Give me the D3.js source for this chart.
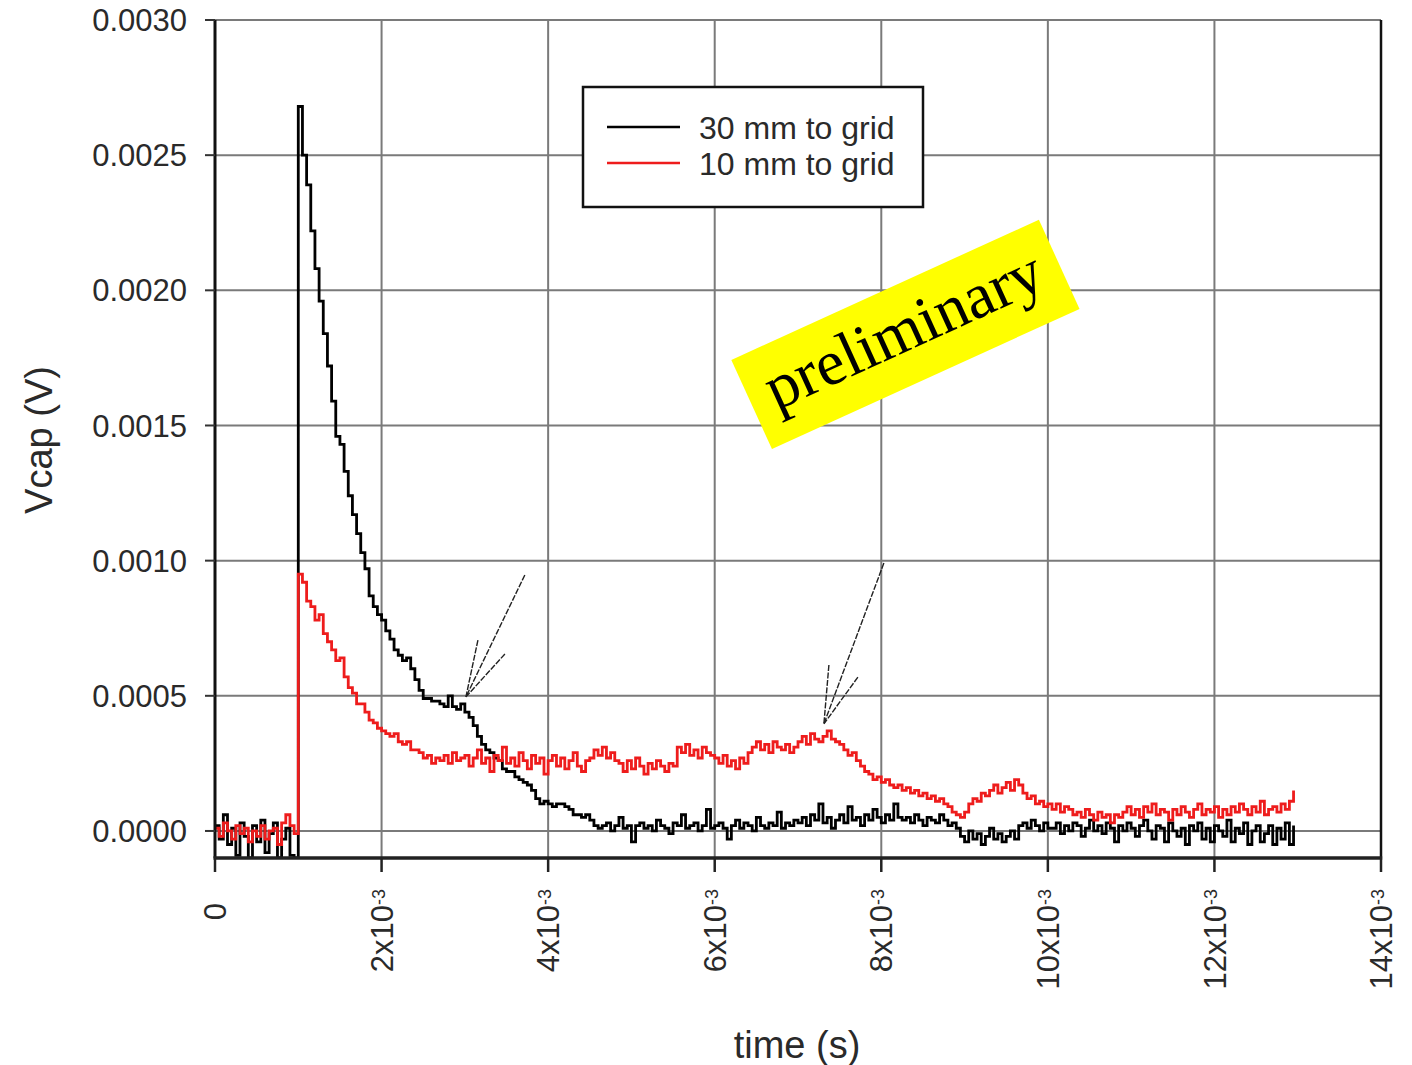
<!DOCTYPE html>
<html>
<head>
<meta charset="utf-8">
<script src="https://cdn.jsdelivr.net/npm/d3@7"></script>
<style>
  body { margin: 0; background: #fff; }
  text { font-family: "Liberation Sans", Arial, sans-serif; }
</style>
</head>
<body>
<script>
  // sampling of the scope traces
  const sampleStep = 0.05e-3; // s

  // Vcap, 30 mm to grid (mV), one value per sample
  const vcap30mm = [
    0.02, -0.03, 0.06, -0.05, 0.01, -0.09, 0.03, -0.02, -0.10, 0.02,
    -0.04, 0.04, -0.08, -0.01, 0.03, -0.10, -0.03, 0.01, -0.09, -0.10,
    2.68, 2.50, 2.39, 2.22, 2.08, 1.96, 1.84, 1.72, 1.59, 1.46,
    1.43, 1.33, 1.24, 1.17, 1.10, 1.03, 0.97, 0.87, 0.83, 0.80,
    0.78, 0.74, 0.71, 0.67, 0.65, 0.63, 0.64, 0.60, 0.56, 0.52,
    0.49, 0.49, 0.48, 0.48, 0.47, 0.46, 0.50, 0.46, 0.45, 0.47,
    0.44, 0.42, 0.39, 0.35, 0.32, 0.30, 0.29, 0.27, 0.26, 0.23,
    0.22, 0.22, 0.20, 0.19, 0.18, 0.17, 0.15, 0.12, 0.10, 0.11,
    0.10, 0.09, 0.10, 0.10, 0.09, 0.08, 0.06, 0.06, 0.05, 0.06,
    0.04, 0.02, 0.01,
    0.02, 0.03, 0.00, 0.02, 0.05, 0.01, 0.02, -0.04, 0.02, 0.03,
    0.01, 0.02, 0.00, 0.04, 0.02, 0.01, -0.01, 0.03, 0.02, 0.06,
    0.01, 0.02, 0.03, 0.00, 0.02, 0.08, 0.01, 0.02, 0.03, 0.01,
    -0.03, 0.02, 0.04, 0.01, 0.03, 0.02, 0.00, 0.05, 0.02, 0.01,
    0.03, 0.02, 0.07, 0.01, 0.03, 0.02, 0.04,
    0.03, 0.05, 0.02, 0.06, 0.04, 0.10, 0.03, 0.05, 0.01, 0.04,
    0.06, 0.03, 0.09, 0.04, 0.05, 0.02, 0.06, 0.04, 0.08, 0.05,
    0.03, 0.06, 0.04, 0.10, 0.05, 0.04,
    0.05, 0.03, 0.06, 0.04, 0.02, 0.05, 0.04, 0.03, 0.06, 0.04, 0.02, 0.03, 0.01,
    -0.02, -0.04, 0.00, -0.03, -0.01, -0.05, -0.02, 0.01, -0.03, -0.01, -0.04, -0.02, 0.00, -0.03,
    0.02, 0.03, 0.01, 0.04, 0.02, 0.00, 0.03, 0.01,
    0.01, 0.03, -0.01, 0.02, 0.00, 0.03, 0.02, -0.02, 0.01, 0.04,
    0.00, 0.02, -0.01, 0.03, 0.01, -0.04, 0.02, 0.00, 0.03, 0.01,
    -0.02, 0.02, 0.04, 0.00, -0.03, 0.02, 0.01, -0.04, 0.03, 0.00,
    -0.02, 0.01, -0.05, 0.02, 0.00, 0.03, -0.03, 0.01, -0.04, 0.02,
    0.00, -0.02, 0.04, -0.04, 0.01, -0.01, 0.03, -0.05, 0.00, 0.02,
    -0.04, -0.01, 0.02, -0.05, 0.01, -0.03, 0.03, -0.05, 0.02
  ];

  // Vcap, 10 mm to grid (mV)
  const vcap10mm = [
    0.01, -0.02, 0.03, 0.00, -0.03, 0.02, -0.01, 0.01, -0.04, 0.00,
    -0.02, 0.02, -0.03, 0.00, 0.01, -0.05, 0.03, 0.06, 0.02, -0.01,
    0.95, 0.92, 0.85, 0.83, 0.78, 0.80, 0.73, 0.70, 0.67, 0.63,
    0.64, 0.57, 0.53, 0.51, 0.47, 0.47, 0.44, 0.41, 0.40, 0.38,
    0.37, 0.36, 0.35, 0.36, 0.33, 0.32, 0.33, 0.30, 0.30, 0.29,
    0.27, 0.28, 0.25, 0.27, 0.26, 0.28, 0.25, 0.29, 0.26, 0.27,
    0.28, 0.24, 0.27, 0.30, 0.25, 0.27, 0.22, 0.28, 0.26, 0.31,
    0.25, 0.27, 0.24, 0.29, 0.26, 0.23, 0.28, 0.25, 0.27, 0.21,
    0.26, 0.28, 0.24, 0.27, 0.23, 0.26, 0.29, 0.24, 0.22, 0.26,
    0.27, 0.30, 0.28, 0.31, 0.27, 0.29, 0.26,
    0.25, 0.22, 0.26, 0.23, 0.27, 0.24, 0.21, 0.25, 0.23, 0.26, 0.24, 0.22, 0.25, 0.24,
    0.31, 0.29, 0.32, 0.28, 0.30, 0.27, 0.31, 0.29, 0.28,
    0.27, 0.25, 0.28, 0.24, 0.26, 0.23, 0.27, 0.25,
    0.29, 0.31, 0.33, 0.30, 0.32, 0.29, 0.33, 0.31, 0.30, 0.32, 0.29, 0.31,
    0.33, 0.35, 0.32, 0.36, 0.34, 0.33, 0.35, 0.37, 0.34, 0.33,
    0.32, 0.30, 0.28, 0.29, 0.26, 0.24, 0.22,
    0.21, 0.19, 0.20, 0.18, 0.19, 0.17, 0.16,
    0.17, 0.15, 0.16, 0.14, 0.15, 0.13, 0.14, 0.12,
    0.13, 0.11, 0.12, 0.10, 0.09, 0.07, 0.06, 0.05,
    0.07, 0.10, 0.12, 0.11, 0.14, 0.13, 0.15, 0.17, 0.14, 0.16, 0.18, 0.15, 0.19,
    0.17, 0.14, 0.12, 0.13, 0.10, 0.11, 0.09, 0.10, 0.08, 0.10, 0.07, 0.09,
    0.08, 0.06, 0.07, 0.05, 0.08, 0.06, 0.04, 0.07, 0.05, 0.06, 0.03, 0.06,
    0.05, 0.07, 0.09, 0.06, 0.08, 0.05, 0.09, 0.07, 0.10, 0.06,
    0.08, 0.07, 0.04, 0.08, 0.06, 0.09, 0.07, 0.05, 0.08, 0.10,
    0.06, 0.08, 0.07, 0.09, 0.05, 0.08, 0.06, 0.09, 0.07, 0.10,
    0.08, 0.06, 0.09, 0.07, 0.11, 0.06, 0.08, 0.09, 0.07, 0.10,
    0.08, 0.11, 0.15
  ];

  // axis ticks
  const xTickMantissa = [0, 2, 4, 6, 8, 10, 12, 14]; // x 10^-3 s
  const yTickValues = [0, 0.0005, 0.0010, 0.0015, 0.0020, 0.0025, 0.0030];

  const seriesNames = ["30 mm to grid", "10 mm to grid"];
  const seriesColors = ["#000000", "#ee1c1c"];

  // hand drawn arrows [tail, tip, head1, head2] as [t (ms), V]
  const arrows = [
    [[3.72, 0.000947], [3.013, 0.000496], [3.157, 0.000706], [3.481, 0.000655]],
    [[8.031, 0.000991], [7.311, 0.000396], [7.371, 0.000614], [7.719, 0.000569]]
  ];

  const width = 1412;
  const height = 1065;

  const svg = d3.select("body")
    .append("svg")
    .attr("width", width)
    .attr("height", height);

  const x = d3.scaleLinear().domain([0, 14e-3]).range([215, 1381]);
  const y = d3.scaleLinear().domain([-0.0001, 0.003]).range([858, 20]);

  // grid
  svg.append("g")
    .selectAll("line")
    .data(xTickMantissa.slice(1, -1))
    .enter()
    .append("line")
    .attr("x1", d => x(d * 1e-3))
    .attr("x2", d => x(d * 1e-3))
    .attr("y1", y.range()[0])
    .attr("y2", y.range()[1])
    .attr("stroke", "#7a7a7a")
    .attr("stroke-width", 2);

  svg.append("g")
    .selectAll("line")
    .data(yTickValues)
    .enter()
    .append("line")
    .attr("x1", x.range()[0])
    .attr("x2", x.range()[1])
    .attr("y1", d => y(d))
    .attr("y2", d => y(d))
    .attr("stroke", "#7a7a7a")
    .attr("stroke-width", 2);

  // traces
  svg.append("clipPath")
    .attr("id", "plot-clip")
    .append("rect")
    .attr("x", x.range()[0])
    .attr("y", y.range()[1])
    .attr("width", x.range()[1] - x.range()[0])
    .attr("height", y.range()[0] - y.range()[1]);

  const line = d3.line()
    .x((d, i) => x(i * sampleStep))
    .y(d => y(d / 1000))
    .curve(d3.curveStepAfter);

  [vcap30mm, vcap10mm].forEach((series, k) => {
    svg.append("path")
      .datum(series)
      .attr("clip-path", "url(#plot-clip)")
      .attr("fill", "none")
      .attr("stroke", seriesColors[k])
      .attr("stroke-width", 2.8)
      .attr("stroke-linejoin", "miter")
      .attr("d", line);
  });

  // axes frame
  svg.append("line")
    .attr("x1", x.range()[0]).attr("x2", x.range()[0])
    .attr("y1", y.range()[1]).attr("y2", y.range()[0])
    .attr("stroke", "#111").attr("stroke-width", 3);
  svg.append("line")
    .attr("x1", x.range()[1]).attr("x2", x.range()[1])
    .attr("y1", y.range()[1]).attr("y2", y.range()[0])
    .attr("stroke", "#111").attr("stroke-width", 2.5);
  svg.append("line")
    .attr("x1", x.range()[0] - 1.5).attr("x2", x.range()[1] + 1.2)
    .attr("y1", y.range()[0]).attr("y2", y.range()[0])
    .attr("stroke", "#222").attr("stroke-width", 3.5);

  // y ticks + labels
  const yAxis = svg.append("g");
  yAxis.selectAll("line")
    .data(yTickValues)
    .enter()
    .append("line")
    .attr("x1", x.range()[0] - 10)
    .attr("x2", x.range()[0])
    .attr("y1", d => y(d))
    .attr("y2", d => y(d))
    .attr("stroke", "#333")
    .attr("stroke-width", 2);
  yAxis.selectAll("text")
    .data(yTickValues)
    .enter()
    .append("text")
    .attr("x", 187)
    .attr("y", d => y(d))
    .attr("dy", "0.36em")
    .attr("text-anchor", "end")
    .attr("font-size", 31)
    .attr("fill", "#2a2a2a")
    .text(d3.format(".4f"));

  // x ticks + rotated labels
  const xAxis = svg.append("g");
  xAxis.selectAll("line")
    .data(xTickMantissa)
    .enter()
    .append("line")
    .attr("x1", d => x(d * 1e-3))
    .attr("x2", d => x(d * 1e-3))
    .attr("y1", y.range()[0])
    .attr("y2", y.range()[0] + 14)
    .attr("stroke", "#222")
    .attr("stroke-width", 2.5);

  const xLabel = xAxis.selectAll("text")
    .data(xTickMantissa)
    .enter()
    .append("text")
    .attr("transform", d => `translate(${x(d * 1e-3)},${d === 0 ? 903 : 889}) rotate(-90)`)
    .attr("dy", "0.36em")
    .attr("text-anchor", "end")
    .attr("font-size", 31)
    .attr("fill", "#2a2a2a");
  xLabel.append("tspan")
    .text(d => d === 0 ? "0" : d + "x10");
  xLabel.filter(d => d !== 0)
    .append("tspan")
    .attr("dy", "-0.45em")
    .attr("font-size", 18)
    .text("-3");

  // axis titles
  svg.append("text")
    .attr("x", 797)
    .attr("y", 1058)
    .attr("text-anchor", "middle")
    .attr("font-size", 38)
    .attr("fill", "#2a2a2a")
    .text("time (s)");
  svg.append("text")
    .attr("transform", "translate(52,440) rotate(-90)")
    .attr("text-anchor", "middle")
    .attr("font-size", 38)
    .attr("fill", "#2a2a2a")
    .text("Vcap (V)");

  // legend
  const legend = svg.append("g").attr("transform", "translate(583,87)");
  legend.append("rect")
    .attr("width", 340)
    .attr("height", 120)
    .attr("fill", "#fff")
    .attr("stroke", "#111")
    .attr("stroke-width", 2.5);
  seriesNames.forEach((name, k) => {
    legend.append("line")
      .attr("x1", 24).attr("x2", 97)
      .attr("y1", 40 + k * 36).attr("y2", 40 + k * 36)
      .attr("stroke", seriesColors[k])
      .attr("stroke-width", 2.5);
    legend.append("text")
      .attr("x", 116)
      .attr("y", 40 + k * 36)
      .attr("dy", "0.36em")
      .attr("font-size", 32)
      .attr("fill", "#2a2a2a")
      .text(name);
  });

  // arrows
  arrows.forEach(a => {
    const [tail, tip, h1, h2] = a.map(p => [x(p[0] * 1e-3), y(p[1])]);
    [tail, h1, h2].forEach(p => {
      svg.append("line")
        .attr("x1", p[0]).attr("y1", p[1])
        .attr("x2", tip[0]).attr("y2", tip[1])
        .attr("stroke", "#222")
        .attr("stroke-width", 1.4)
        .attr("stroke-dasharray", "6,1.5");
    });
  });

  // "preliminary" stamp
  const stamp = svg.append("g")
    .attr("transform", `translate(${x(8.29e-3)},${y(0.001837)}) rotate(-24.5)`);
  stamp.append("rect")
    .attr("x", -169)
    .attr("y", -49)
    .attr("width", 338)
    .attr("height", 98)
    .attr("fill", "#ffff00");
  stamp.append("text")
    .attr("text-anchor", "middle")
    .attr("dy", "0.25em")
    .style("font-family", "'Liberation Serif', 'Times New Roman', serif")
    .attr("font-size", 64)
    .attr("fill", "#000")
    .text("preliminary");
</script>
</body>
</html>
